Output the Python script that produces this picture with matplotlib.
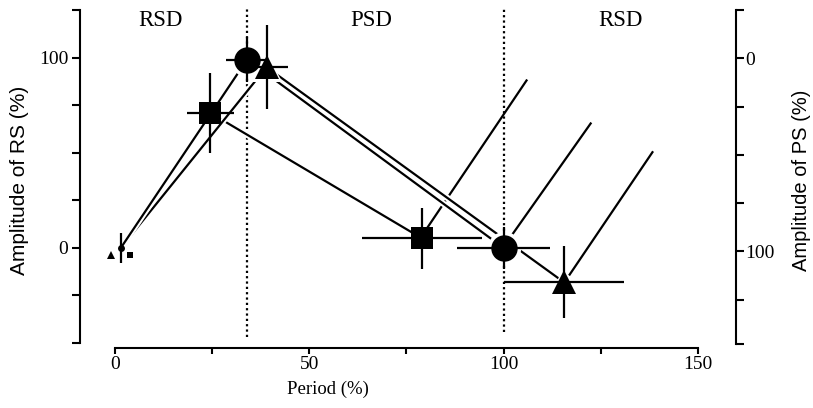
import matplotlib.pyplot as plt
import matplotlib.patheffects as pe

# common start point of the rising lines (period %, RS amplitude %)
start_x = 1.5
start_y = 0

# circles
circle_x = [1.5, 34, 100]
circle_y = [0, 99, 0]
circle_xerr = [0, 5.5, 12]
circle_yerr = [8, 12, 11]

# squares
square_x = [3.9, 24.5, 79]
square_y = [-3.7, 71, 5]
square_xerr = [0, 6, 15.5]
square_yerr = [0, 21, 16]

# triangles
tri_x = [-1, 39, 115.5]
tri_y = [-3.7, 95, -18]
tri_xerr = [0, 5.6, 15.5]
tri_yerr = [0, 22, 19]

# slanted lines going up from the late points
diag_x0 = [80.5, 101.8, 117]
diag_y0 = [11, 5.8, -14]
diag_x1 = [105.9, 122.4, 138.3]
diag_y1 = [88, 65.4, 50.3]

# phase boundaries
bounds_x = [34, 100]
bounds_top = [126, 126]
bounds_bottom = [-47, -44]

zone_labels = ['RSD', 'PSD', 'RSD']
zone_x = [11.6, 65.9, 130]
zone_y = 119.5

serif = 'Liberation Serif'
sans = 'Liberation Sans'

fig = plt.figure(figsize=(8.13, 4.08), dpi=100)
ax = fig.add_axes([0.0984, 0.147, 0.8069, 0.8284])
ax.set_xlim(-9, 159.8)
ax.set_ylim(-52.6, 125)

halo = [pe.Stroke(linewidth=4.5, foreground='white'), pe.Normal()]

# slanted lines first so the others cut through them
for x0, y0, x1, y1 in zip(diag_x0, diag_y0, diag_x1, diag_y1):
    ax.plot([x0, x1], [y0, y1], color='black', lw=1.6, zorder=1)

ax.plot([start_x] + square_x[1:], [start_y] + square_y[1:], color='black',
        lw=1.6, zorder=2, path_effects=halo)
ax.plot([start_x] + tri_x[1:], [start_y] + tri_y[1:], color='black',
        lw=1.6, zorder=2, path_effects=halo)
ax.plot([start_x] + circle_x[1:], [start_y] + circle_y[1:], color='black',
        lw=1.6, zorder=2, path_effects=halo)

for bx, bt, bb in zip(bounds_x, bounds_top, bounds_bottom):
    ax.plot([bx, bx], [bb, bt], color='black', lw=1.6, ls=(0, (1, 1.4)),
            zorder=1.5, clip_on=False)

# error bars
for xs, ys, xe, ye in [(circle_x, circle_y, circle_xerr, circle_yerr),
                       (square_x, square_y, square_xerr, square_yerr),
                       (tri_x, tri_y, tri_xerr, tri_yerr)]:
    ax.errorbar(xs, ys, xerr=xe, yerr=ye, fmt='none', ecolor='black',
                elinewidth=1.6, capsize=0, zorder=5)

# white halo behind big markers
ax.plot(circle_x[1:], circle_y[1:], 'o', color='white', ms=24, mew=0, zorder=3)
ax.plot(tri_x[1:], tri_y[1:], '^', color='white', ms=21, mew=0, zorder=3)

# markers
ax.plot(circle_x[1:], circle_y[1:], 'o', color='black', ms=19, mew=0, zorder=4)
ax.plot(square_x[1:], square_y[1:], 's', color='black', ms=15.5, mew=0, zorder=4)
ax.plot(tri_x[1:], tri_y[1:], '^', color='black', ms=17, mew=0, zorder=4)
ax.plot(circle_x[:1], circle_y[:1], 'o', color='black', ms=5, mew=0, zorder=4)
ax.plot(square_x[:1], square_y[:1], 's', color='black', ms=5, mew=0, zorder=4)
ax.plot(tri_x[:1], tri_y[:1], '^', color='black', ms=5.5, mew=0, zorder=4)

for lab, zx in zip(zone_labels, zone_x):
    ax.text(zx, zone_y, lab, ha='center', va='center', family=serif, fontsize=16.5)

# axes styling
ax.spines['top'].set_visible(False)
ax.spines['right'].set_visible(False)
ax.spines['left'].set_bounds(-50, 125)
ax.spines['bottom'].set_bounds(0, 150)
for s in ['left', 'bottom']:
    ax.spines[s].set_linewidth(1.5)

ax.set_xticks([0, 25, 50, 75, 100, 125, 150])
ax.set_xticklabels(['0', '', '50', '', '100', '', '150'], family=serif, fontsize=14)
ax.set_yticks([-50, -25, 0, 25, 50, 75, 100, 125])
ax.set_yticklabels(['', '', '0', '', '', '', '100', ''], family=serif, fontsize=14)
ax.tick_params(axis='x', length=4, width=1.5, pad=2)
ax.tick_params(axis='y', length=5.5, width=1.5, pad=3)

ax.set_xlabel('Period (%)', family=serif, fontsize=13.5)
ax.xaxis.set_label_coords(0.378, -0.097)
ax.set_ylabel('Amplitude of RS (%)', family=sans, fontsize=15)
ax.yaxis.set_label_coords(-0.078, 0.497)

ax2 = ax.twinx()
ax2.set_ylim(150, -25)
ax2.spines['top'].set_visible(False)
ax2.spines['left'].set_visible(False)
ax2.spines['bottom'].set_visible(False)
ax2.spines['right'].set_bounds(-25, 148)
ax2.spines['right'].set_linewidth(1.5)
ax2.set_yticks([-25, 0, 25, 50, 75, 100, 125, 148])
ax2.set_yticklabels(['', '0', '', '', '', '100', '', ''], family=serif, fontsize=14)
ax2.tick_params(axis='y', length=5.5, width=1.5, pad=1)
ax2.set_ylabel('Amplitude of PS (%)', family=sans, fontsize=14.5, rotation=90)
ax2.yaxis.set_label_coords(1.086, 0.497)

fig.savefig('out.png', dpi=100)
